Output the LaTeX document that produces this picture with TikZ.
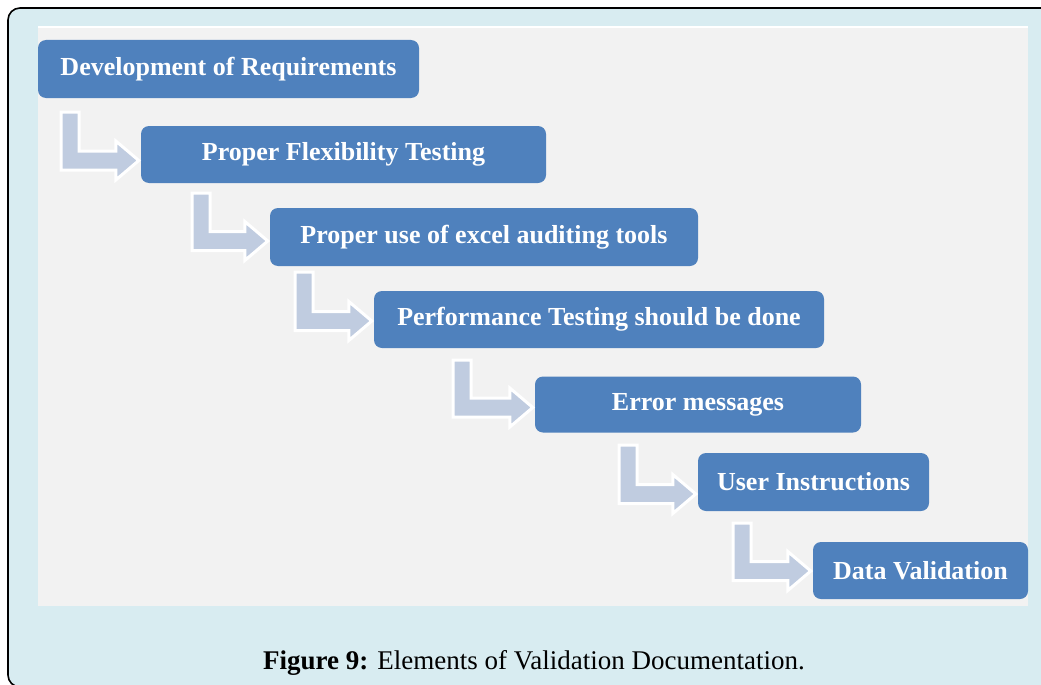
\documentclass[tikz,border=0pt]{standalone}
\usepackage{fontspec}
\setmainfont{Liberation Serif}
\usetikzlibrary{calc}

\definecolor{framebg}{RGB}{216,236,241}
\definecolor{panelbg}{RGB}{242,242,242}
\definecolor{boxblue}{RGB}{79,129,189}
\definecolor{arrowfill}{RGB}{192,204,224}

\tikzset{
  stepbox/.style={rectangle, rounded corners=8pt, fill=boxblue, draw=none,
    text=white, font=\fontsize{26}{30}\selectfont\bfseries, inner sep=0pt},
  bent/.style={fill=arrowfill, draw=white, line width=3pt, line join=miter},
}

% bent block arrow: #1 left x of the shaft, #2 top y, #3 centre y of the head, #4 target box
\newcommand\bentarrow[4]{%
  \coordinate (tip) at ($(#4.west |- 0,#3)+(-2,0)$);
  \coordinate (lo) at ($(tip)+(0,9.5)$);
  \draw[bent] (#1,#2) -- ++(18,0) |- ($(tip)+(-23,-9.5)$) -- ++(0,-10) -- (tip)
    -- ($(tip)+(-23,19.5)$) -- ++(0,-10) -- (lo -| #1,0) -- cycle;
}

\begin{document}
\begin{tikzpicture}[x=1pt, y=-1pt]
  \useasboundingbox (0,0) rectangle (1041,685);
  \clip (0,0) rectangle (1041,685);

  % outer frame and inner panel
  \draw[fill=framebg, draw=black, line width=1.6pt, rounded corners=12pt]
    (8,8) rectangle (1080,687);
  \fill[panelbg] (38,27) rectangle (1028,606);
  \draw[white, line width=2pt] (38,27) -- (1028,27);

  % steps
  \node[stepbox, minimum width=381pt, minimum height=58pt] (b1) at (228.5,69) {Development of Requirements};
  \node[stepbox, minimum width=405pt, minimum height=57pt] (b2) at (343.5,154.5) {Proper Flexibility Testing};
  \node[stepbox, minimum width=428pt, minimum height=58pt] (b3) at (484,237) {Proper use of excel auditing tools};
  \node[stepbox, minimum width=450pt, minimum height=57pt] (b4) at (599,319.5) {Performance Testing should be done};
  \node[stepbox, minimum width=326pt, minimum height=56pt] (b5) at (698,404.5) {Error messages};
  \node[stepbox, minimum width=231pt, minimum height=58pt] (b6) at (813.5,482) {User Instructions};
  \node[stepbox, minimum width=215pt, minimum height=57pt] (b7) at (920.5,570.5) {Data Validation};

  % connectors between the steps
  \bentarrow{61}{112}{160.5}{b2}
  \bentarrow{192}{193}{241}{b3}
  \bentarrow{295}{272}{321}{b4}
  \bentarrow{453}{360}{407.5}{b5}
  \bentarrow{619}{445}{494}{b6}
  \bentarrow{733}{523}{571}{b7}

  % caption
  \node[anchor=base, font=\fontsize{27}{30}\selectfont, inner sep=0pt] (cap) at (534,669)
    {\textbf{Figure 9:} Elements of Validation Documentation.};
\end{tikzpicture}
\end{document}
